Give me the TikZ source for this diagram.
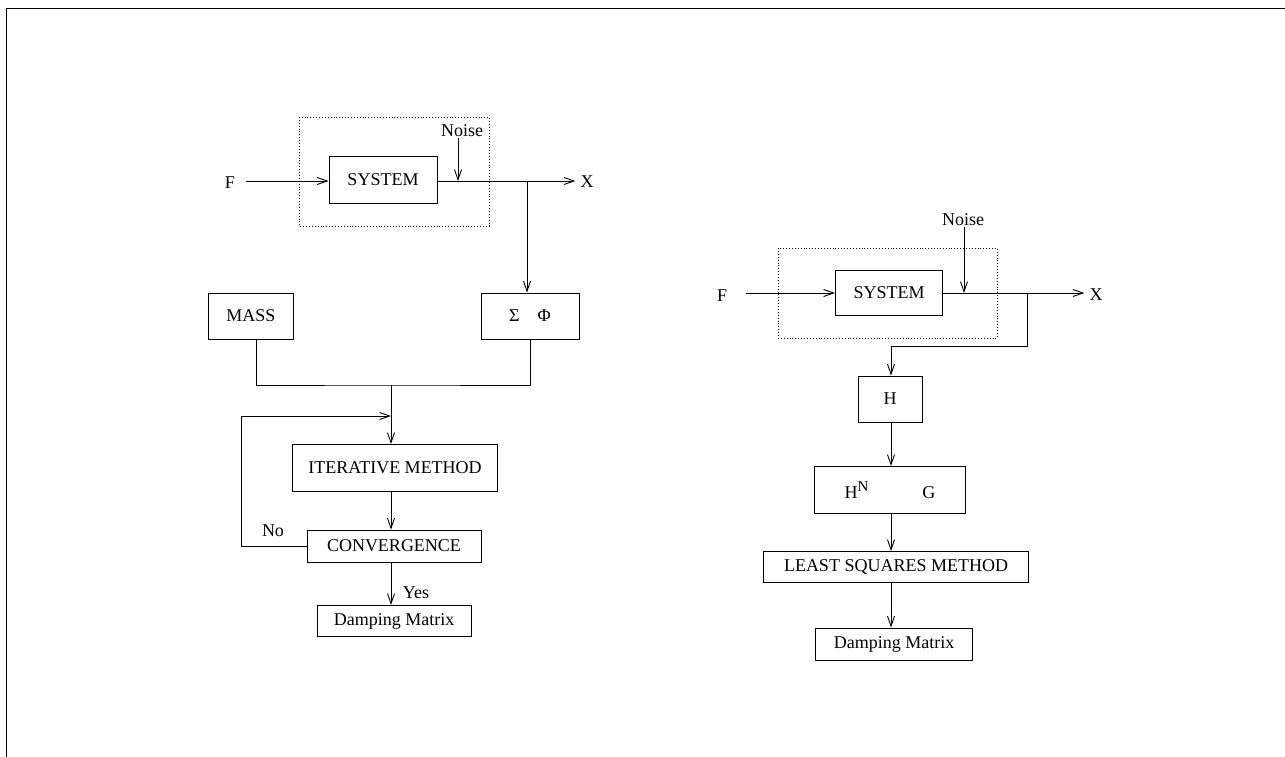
\documentclass[tikz,border=0pt]{standalone}
\usepackage{fontspec}
\setmainfont{Liberation Serif}
\usetikzlibrary{arrows.meta}

\begin{document}
\begin{tikzpicture}[
    x=1pt, y=-1pt,
    font=\fontsize{18}{20}\selectfont,
    block/.style={rectangle, draw, line width=1pt, inner sep=0pt},
    link/.style={-{Straight Barb[length=10pt,width=7pt]}, line width=0.9pt},
    wire/.style={line width=0.9pt},
    plant/.style={dotted, line width=0.9pt},
    label/.style={inner sep=1pt}
]
    \useasboundingbox (0,0) rectangle (1285,757);
    \draw[line width=1pt] (6,757) -- (6,9) -- (1285,9);

    % Left: iterative method
    \node[label] (fL) at (230,183) {F};
    \node[block, minimum width=108pt, minimum height=46pt] (sysL) at (383,180) {SYSTEM};
    \node[label] (noiseL) at (462,131) {Noise};
    \node[label] (xL) at (587,182) {X};
    \node[block, minimum width=85pt, minimum height=46pt] (mass) at (251,316) {MASS};
    \node[block, minimum width=98pt, minimum height=46pt] (sigma) at (530,316) {Σ\quad Φ};
    \node[block, minimum width=205pt, minimum height=47pt] (iter) at (395,468) {ITERATIVE METHOD};
    \node[block, minimum width=174pt, minimum height=32pt] (conv) at (394,546) {CONVERGENCE};
    \node[block, minimum width=154pt, minimum height=31pt] (dampL) at (394,621) {Damping Matrix};
    \node[label] (no) at (273,531) {No};
    \node[label] (yes) at (416,593) {Yes};

    \draw[plant] (299,117) rectangle (489,226);
    \coordinate (nL) at (458,181);
    \coordinate (bL) at (527,181);
    \coordinate (jL) at (391,385);
    \coordinate (fbL) at (391,416);

    \draw[link] ([xshift=10pt]fL.east |- bL) -- (sysL.west |- bL);
    \draw[wire] (sysL.east |- bL) -- (bL);
    \draw[link] (bL) -- ([xshift=-4pt]xL.west |- bL);
    \draw[link] (noiseL.south -| nL) -- (nL);
    \draw[link] (bL) -- (bL |- sigma.north);
    \draw[wire] (mass.south) ++(5pt,0) |- (jL) -| (sigma.south);
    \draw[link] (jL) -- (jL |- iter.north);
    \draw[link] (conv.west) -- ++(-65pt,0) |- (fbL);
    \draw[link] (jL |- iter.south) -- (jL |- conv.north);
    \draw[link] (jL |- conv.south) -- (jL |- dampL.north);

    % Right: least squares method
    \node[label] (fR) at (722,296) {F};
    \node[block, minimum width=107pt, minimum height=45pt] (sysR) at (889,293) {SYSTEM};
    \node[label] (noiseR) at (963,220) {Noise};
    \node[label] (xR) at (1096,295) {X};
    \node[block, minimum width=64pt, minimum height=46pt] (h) at (890,399) {H};
    \node[block, minimum width=151pt, minimum height=47pt] (hng) at (890,490)
        {H\raisebox{7pt}{\fontsize{15}{15}\selectfont N}\qquad\quad G};
    \node[block, minimum width=265pt, minimum height=31pt] (ls) at (896,567) {LEAST SQUARES METHOD};
    \node[block, minimum width=157pt, minimum height=32pt] (dampR) at (894,644) {Damping Matrix};

    \draw[plant] (778,248) rectangle (997,338);
    \coordinate (nR) at (964,293);
    \coordinate (bR) at (1027,293);
    \coordinate (tR) at (891,346);

    \draw[link] ([xshift=18pt]fR.east |- bR) -- (sysR.west |- bR);
    \draw[wire] (sysR.east |- bR) -- (bR);
    \draw[link] (bR) -- ([xshift=-4pt]xR.west |- bR);
    \draw[link] (noiseR.south -| nR) -- (nR);
    \draw[wire] (bR) |- (tR);
    \draw[link] (tR) -- (tR |- h.north);
    \draw[link] (tR |- h.south) -- (tR |- hng.north);
    \draw[link] (tR |- hng.south) -- (tR |- ls.north);
    \draw[link] (tR |- ls.south) -- (tR |- dampR.north);

\end{tikzpicture}
\end{document}
